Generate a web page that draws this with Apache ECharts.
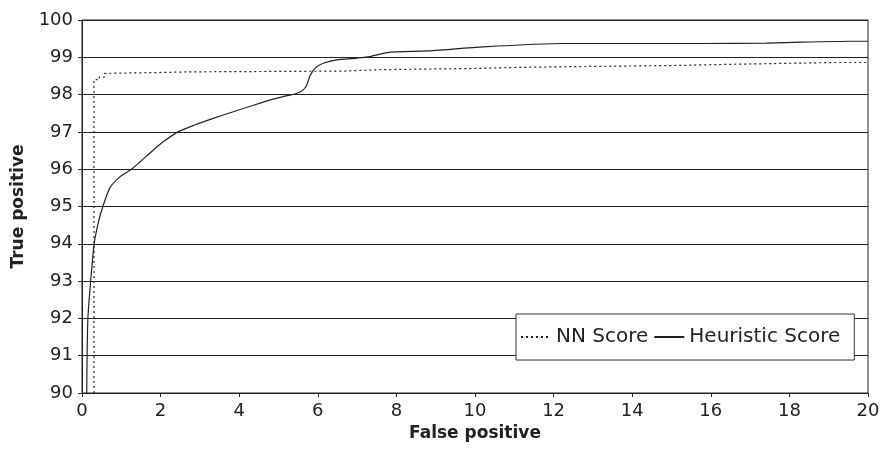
<!DOCTYPE html>
<html>
<head>
<meta charset="utf-8">
<script src="https://cdn.jsdelivr.net/npm/echarts@6/dist/echarts.min.js"></script>
<style>html,body{margin:0;padding:0;background:#fff}#c{width:886px;height:460px}</style>
</head>
<body>
<div id="c"></div>
<script>
var seriesNames = ['NN Score', 'Heuristic Score'];
var nnX = [0.305, 0.305, 0.44, 0.44, 0.57, 0.57, 1.86, 2.75, 6.64, 7.67, 9.95, 11.15, 12.5, 15.05, 16.40, 19.12, 20];
var nnY = [90, 98.40, 98.40, 98.47, 98.47, 98.57, 98.59, 98.61, 98.63, 98.67, 98.70, 98.73, 98.75, 98.78, 98.81, 98.86, 98.86];
var heurX = [0.12, 0.13, 0.15, 0.22, 0.31, 0.41, 0.53, 0.71, 0.97, 1.26, 1.48, 1.81, 2.1, 2.44, 2.83, 3.3, 3.85, 4.2, 4.53, 4.8, 5.1, 5.45, 5.62, 5.72, 5.80, 5.93, 6.14, 6.48, 7.0, 7.33, 7.8, 8.77, 10.21, 12.25, 15.73, 17.42, 18.09, 19.54, 20];
var heurY = [90, 91, 92, 93, 94, 94.55, 95, 95.5, 95.8, 96, 96.2, 96.51, 96.76, 97, 97.17, 97.35, 97.54, 97.66, 97.77, 97.86, 97.94, 98.03, 98.12, 98.26, 98.5, 98.71, 98.84, 98.93, 98.98, 99.02, 99.13, 99.17, 99.28, 99.37, 99.37, 99.38, 99.40, 99.43, 99.43];
var xTicks = {min: 0, max: 20, step: 2};
var yTicks = {min: 90, max: 100, step: 1};
var xTitle = 'False positive';
var yTitle = 'True positive';

function pairs(xs, ys) { return xs.map(function (x, i) { return [x, ys[i]]; }); }

var chart = echarts.init(document.getElementById('c'));
var font = 'DejaVu Sans';
chart.setOption({
  animation: false,
  backgroundColor: '#fff',
  grid: {left: 82, right: 18, top: 20, bottom: 67, show: true, borderColor: '#222', borderWidth: 1, backgroundColor: 'transparent'},
  legend: {
    left: 516, top: 314,
    padding: [13, 14, 13, 4],
    itemGap: 5, itemWidth: 30, itemHeight: 14,
    backgroundColor: '#fff', borderColor: '#333', borderWidth: 1,
    itemStyle: {color: 'transparent', borderColor: 'transparent', borderWidth: 0},
    textStyle: {fontFamily: font, fontSize: 20, color: '#222'},
    data: seriesNames
  },
  xAxis: {
    type: 'value', min: xTicks.min, max: xTicks.max, interval: xTicks.step,
    name: xTitle, nameLocation: 'middle', nameGap: 30,
    nameTextStyle: {fontFamily: font, fontSize: 17, fontWeight: 'bold', color: '#222'},
    axisLine: {show: true, lineStyle: {color: '#222', width: 1}},
    axisTick: {show: true, length: 4, lineStyle: {color: '#222'}},
    axisLabel: {fontFamily: font, fontSize: 18, color: '#222', margin: 9},
    splitLine: {show: false}
  },
  yAxis: {
    type: 'value', min: yTicks.min, max: yTicks.max, interval: yTicks.step,
    name: yTitle, nameLocation: 'middle', nameGap: 55, nameRotate: 90,
    nameTextStyle: {fontFamily: font, fontSize: 17, fontWeight: 'bold', color: '#222'},
    axisLine: {show: true, lineStyle: {color: '#222', width: 1}},
    axisTick: {show: true, length: 4, lineStyle: {color: '#222'}},
    axisLabel: {fontFamily: font, fontSize: 18, color: '#222', margin: 9},
    splitLine: {show: true, lineStyle: {color: '#222', width: 1}}
  },
  series: [
    {
      name: seriesNames[0], type: 'line', data: pairs(nnX, nnY),
      symbol: 'none', showSymbol: false,
      lineStyle: {color: '#222', width: 1.2, type: [2, 3]},
      itemStyle: {color: '#222'}
    },
    {
      name: seriesNames[1], type: 'line', data: pairs(heurX, heurY),
      symbol: 'none', showSymbol: false, smooth: 0.2,
      lineStyle: {color: '#222', width: 1.2, type: 'solid'},
      itemStyle: {color: '#222'}
    }
  ]
});
</script>
</body>
</html>
